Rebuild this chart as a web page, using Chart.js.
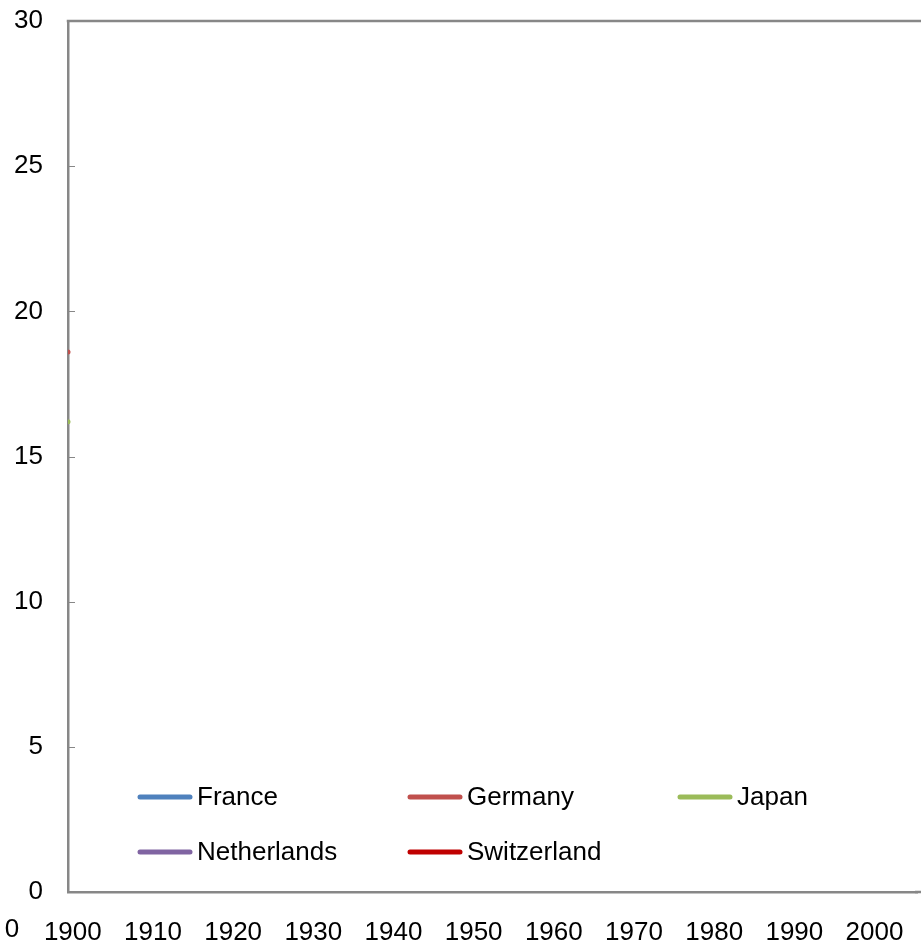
<!DOCTYPE html>
<html>
<head>
<meta charset="utf-8">
<script src="https://cdn.jsdelivr.net/npm/chart.js@4/dist/chart.umd.min.js"></script>
<style>
  html, body { margin: 0; padding: 0; background: #ffffff; }
  #wrap { width: 921px; height: 942px; }
</style>
</head>
<body>
<div id="wrap"><canvas id="chart" width="921" height="942"></canvas></div>
<script>
// Series names and colours
const countries = ['France', 'Germany', 'Japan', 'Netherlands', 'Switzerland'];
const seriesColors = ['#4F81BD', '#C0504D', '#9BBB59', '#8064A2', '#C00000'];

// Values per series (only the first year carries a value for two of them)
const firstYear = 1899.4;
const lastYear = 2005.3;
const franceValues = [];
const germanyValues = [18.6];
const japanValues = [16.2];
const netherlandsValues = [];
const switzerlandValues = [];
const seriesValues = [franceValues, germanyValues, japanValues, netherlandsValues, switzerlandValues];

// Axis ticks
const xTickYears = [1900, 1910, 1920, 1930, 1940, 1950, 1960, 1970, 1980, 1990, 2000];
const xExtraLabel = { value: 1892.4, text: '0' };
const yTickValues = [0, 5, 10, 15, 20, 25, 30];

const FONT = '"Liberation Sans", Arial, sans-serif';
const AXIS_GRAY = '#878787';

const datasets = countries.map((name, i) => ({
  label: name,
  data: seriesValues[i].map((v, k) => ({ x: firstYear + k, y: v })),
  borderColor: seriesColors[i],
  backgroundColor: seriesColors[i],
  borderWidth: 4,
  pointRadius: 2.5,
  pointBorderWidth: 0,
  pointBackgroundColor: seriesColors[i],
  clip: 0,
  tension: 0
}));

// Frame lines, inner y tick marks, the stray "0" label and the legend grid
const decorPlugin = {
  id: 'decor',
  afterDraw(chart) {
    const ctx = chart.ctx;
    const area = chart.chartArea;
    const xs = chart.scales.x;
    const ys = chart.scales.y;
    ctx.save();

    // top frame line and bottom axis line running to the canvas edge
    ctx.strokeStyle = AXIS_GRAY;
    ctx.lineWidth = 2.5;
    ctx.beginPath();
    ctx.moveTo(area.left - 1.25, area.top);
    ctx.lineTo(chart.width, area.top);
    ctx.moveTo(area.right - 2, area.bottom);
    ctx.lineTo(chart.width, area.bottom);
    ctx.stroke();

    // inner tick marks on the value axis
    ctx.lineWidth = 1;
    yTickValues.forEach(v => {
      const py = Math.round(ys.getPixelForValue(v)) + 0.5;
      ctx.beginPath();
      ctx.moveTo(area.left, py);
      ctx.lineTo(area.left + 7, py);
      ctx.stroke();
    });

    // extra label at the far left of the category row
    ctx.fillStyle = '#000000';
    ctx.font = '26px ' + FONT;
    ctx.textAlign = 'center';
    ctx.textBaseline = 'middle';
    ctx.fillText(xExtraLabel.text, xs.getPixelForValue(xExtraLabel.value), area.bottom + 38);

    // legend: three columns, two rows, inside the plot area
    const colW = 270, rowH = 55, lineLen = 50;
    const x0 = area.left + 72;
    const y0 = area.bottom - 95;
    chart.data.datasets.forEach((ds, i) => {
      const col = i % 3, row = Math.floor(i / 3);
      const lx = x0 + col * colW;
      const ly = y0 + row * rowH;
      ctx.strokeStyle = ds.borderColor;
      ctx.lineWidth = 5;
      ctx.lineCap = 'round';
      ctx.beginPath();
      ctx.moveTo(lx, ly);
      ctx.lineTo(lx + lineLen, ly);
      ctx.stroke();
      ctx.fillStyle = '#000000';
      ctx.textAlign = 'left';
      ctx.textBaseline = 'middle';
      ctx.fillText(ds.label, lx + lineLen + 7, ly + 1);
    });
    ctx.restore();
  }
};

new Chart(document.getElementById('chart'), {
  type: 'line',
  data: { datasets },
  options: {
    responsive: false,
    animation: false,
    events: [],
    layout: { padding: { top: 21, left: 0, right: 0, bottom: 0 } },
    plugins: {
      legend: { display: false },
      tooltip: { enabled: false }
    },
    scales: {
      x: {
        type: 'linear',
        min: firstYear,
        max: lastYear,
        afterBuildTicks(scale) {
          scale.ticks = xTickYears.map(v => ({ value: v }));
        },
        afterFit(scale) {
          scale.height = 50;
          scale.paddingLeft = 0;
          scale.paddingRight = 0;
        },
        grid: { display: false, drawTicks: false },
        border: { display: true, color: AXIS_GRAY, width: 2.5 },
        ticks: {
          color: '#000000',
          font: { family: FONT, size: 26 },
          padding: 25,
          maxRotation: 0,
          autoSkip: false,
          callback: v => String(v)
        }
      },
      y: {
        min: 0,
        max: 30,
        afterBuildTicks(scale) {
          scale.ticks = yTickValues.map(v => ({ value: v }));
        },
        afterFit(scale) {
          scale.width = 68;
          scale.paddingTop = 0;
          scale.paddingBottom = 0;
        },
        grid: { display: false, drawTicks: false },
        border: { display: true, color: AXIS_GRAY, width: 2.5 },
        ticks: {
          color: '#000000',
          font: { family: FONT, size: 26 },
          padding: 25
        }
      }
    }
  },
  plugins: [decorPlugin]
});
</script>
</body>
</html>
